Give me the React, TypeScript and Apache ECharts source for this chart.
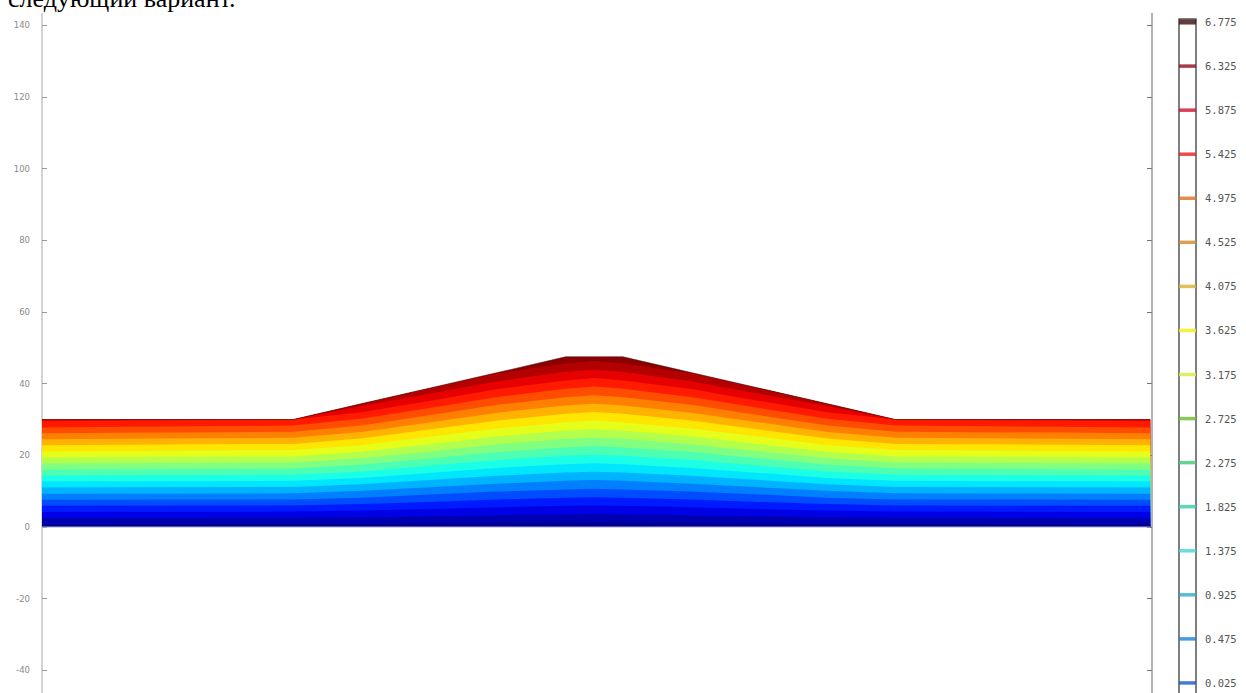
import React, { useEffect, useRef } from "react";
import * as echarts from "echarts";

// Horizontal stations across the cross-section (m)
const X_STATIONS = [0, 70, 89, 108, 127, 146, 154, 162, 181, 200, 219, 238, 309];
// Ground surface height at each station
const SURFACE = [30, 30, 34.4, 38.75, 43.1, 47.5, 47.5, 47.5, 43.1, 38.75, 34.4, 30, 30];

// Contour levels (low to high)
const LEVELS = [-1.775, -1.325, -0.875, -0.425, 0.025, 0.475, 0.925, 1.375, 1.825, 2.275, 2.725, 3.175, 3.625, 4.075, 4.525, 4.975, 5.425, 5.875, 6.325, 6.775];

// Height of each contour level at every station
const LEVEL_HEIGHTS = [
  [0.8, 0.9, 0.9, 1.0, 1.1, 1.2, 1.2, 1.2, 1.1, 1.0, 0.9, 0.9, 0.8],
  [2.5, 2.6, 2.7, 3.0, 3.3, 3.5, 3.6, 3.5, 3.3, 3.0, 2.7, 2.6, 2.5],
  [4.2, 4.3, 4.6, 5.0, 5.5, 5.9, 5.9, 5.9, 5.5, 5.0, 4.6, 4.3, 4.2],
  [5.9, 6.0, 6.4, 7.0, 7.7, 8.2, 8.3, 8.2, 7.7, 7.0, 6.4, 6.0, 5.9],
  [7.6, 7.7, 8.2, 9.1, 9.9, 10.5, 10.7, 10.5, 9.9, 9.1, 8.2, 7.7, 7.6],
  [9.3, 9.4, 10.1, 11.1, 12.1, 12.9, 13.1, 12.9, 12.1, 11.1, 10.1, 9.4, 9.3],
  [11.0, 11.2, 11.9, 13.1, 14.3, 15.2, 15.4, 15.2, 14.3, 13.1, 11.9, 11.2, 11.0],
  [12.7, 12.9, 13.7, 15.1, 16.5, 17.5, 17.8, 17.5, 16.5, 15.1, 13.7, 12.9, 12.7],
  [14.3, 14.6, 15.5, 17.1, 18.7, 19.9, 20.2, 19.9, 18.7, 17.1, 15.5, 14.6, 14.3],
  [16.0, 16.3, 17.4, 19.1, 20.9, 22.2, 22.6, 22.2, 20.9, 19.1, 17.4, 16.3, 16.0],
  [17.7, 18.0, 19.2, 21.1, 23.1, 24.6, 24.9, 24.6, 23.1, 21.1, 19.2, 18.0, 17.7],
  [19.4, 19.7, 21.0, 23.1, 25.3, 26.9, 27.3, 26.9, 25.3, 23.1, 21.0, 19.7, 19.4],
  [21.1, 21.5, 22.8, 25.2, 27.5, 29.2, 29.7, 29.2, 27.5, 25.2, 22.8, 21.5, 21.1],
  [22.8, 23.2, 24.7, 27.2, 29.7, 31.6, 32.1, 31.6, 29.7, 27.2, 24.7, 23.2, 22.8],
  [24.5, 24.9, 26.5, 29.2, 31.9, 33.9, 34.4, 33.9, 31.9, 29.2, 26.5, 24.9, 24.5],
  [26.2, 26.6, 28.3, 31.2, 34.1, 36.2, 36.8, 36.2, 34.1, 31.2, 28.3, 26.6, 26.2],
  [27.8, 28.3, 30.2, 33.2, 36.3, 38.6, 39.2, 38.6, 36.3, 33.2, 30.2, 28.3, 27.8],
  [29.5, 30.0, 32.0, 35.2, 38.5, 40.9, 41.6, 40.9, 38.5, 35.2, 32.0, 30.0, 29.5],
  [30.0, 30.0, 33.8, 37.2, 40.7, 43.3, 43.9, 43.3, 40.7, 37.2, 33.8, 30.0, 30.0],
  [30.0, 30.0, 34.4, 38.75, 42.9, 45.6, 46.3, 45.6, 42.9, 38.75, 34.4, 30.0, 30.0],
];

// Band colours: band k lies below LEVELS[k]; last one above the top level
const BAND_COLORS = [
  "#00008c", "#0000b3", "#0000e6", "#001aff", "#004dff", "#0080ff", "#00b3ff",
  "#00e6ff", "#1affe6", "#4dffb3", "#80ff80", "#b3ff4d", "#e6ff1a", "#ffe600",
  "#ffb300", "#ff8000", "#ff4d00", "#ff1a00", "#e60000", "#b30000", "#8c0000",
];

// Colour-bar entries (visible part)
const BAR_LEVELS = [0.025, 0.475, 0.925, 1.375, 1.825, 2.275, 2.725, 3.175, 3.625, 4.075, 4.525, 4.975, 5.425, 5.875, 6.325, 6.775];
const BAR_COLORS = [
  "#1858c8", "#2080d8", "#30a8d0", "#40d8d8", "#30d0a8", "#40c878", "#70b830", "#d8e840",
  "#f0f010", "#d8b030", "#d08830", "#e07020", "#e82020", "#d01030", "#8e0e1e", "#3c0c0c",
];

const Y_TICKS_MIN = -60;
const Y_TICKS_MAX = 160;
const Y_INTERVAL = 20;

export default function App() {
  const ref = useRef<HTMLDivElement>(null);
  useEffect(() => {
    if (!ref.current) return;
    const chart = echarts.init(ref.current, null, { renderer: "svg" });

    const bandSeries: any[] = [];
    bandSeries.push({
      type: "line",
      xAxisIndex: 0,
      yAxisIndex: 0,
      data: X_STATIONS.map((x, i) => [x, SURFACE[i]]),
      symbol: "none",
      lineStyle: { width: 0 },
      areaStyle: { color: BAND_COLORS[LEVELS.length], opacity: 1 },
      silent: true,
    });
    for (let k = LEVELS.length - 1; k >= 0; k--) {
      bandSeries.push({
        type: "line",
        xAxisIndex: 0,
        yAxisIndex: 0,
        data: X_STATIONS.map((x, i) => [x, LEVEL_HEIGHTS[k][i]]),
        symbol: "none",
        lineStyle: { width: 0 },
        areaStyle: { color: BAND_COLORS[k], opacity: 1 },
        silent: true,
      });
    }
    // surface outline
    bandSeries.push({
      type: "line",
      xAxisIndex: 0,
      yAxisIndex: 0,
      data: X_STATIONS.map((x, i) => [x, SURFACE[i]]),
      symbol: "none",
      lineStyle: { width: 1, color: "rgba(70,20,20,0.55)" },
      silent: true,
    });
    // base outline
    bandSeries.push({
      type: "line",
      xAxisIndex: 0,
      yAxisIndex: 0,
      data: [[X_STATIONS[0], 0], [X_STATIONS[X_STATIONS.length - 1], 0]],
      symbol: "none",
      lineStyle: { width: 1.2, color: "#a8a8d8" },
      silent: true,
    });

    const axisCommon = {
      type: "value",
      min: Y_TICKS_MIN,
      max: Y_TICKS_MAX,
      interval: Y_INTERVAL,
      splitLine: { show: false },
    };

    chart.setOption({
      animation: false,
      backgroundColor: "#fff",
      grid: [
        {
          left: 42, width: 1110, top: -46.3, height: 788.3,
          containLabel: false, outerBoundsMode: "none",
        },
        {
          left: 1179, width: 17, top: 19, height: 708, show: true,
          borderColor: "#555", borderWidth: 1.5, backgroundColor: "#fff",
          containLabel: false, outerBoundsMode: "none",
        },
      ],
      xAxis: [
        { type: "value", gridIndex: 0, min: 0, max: 309.5, show: false },
        { type: "value", gridIndex: 1, min: 0, max: 1, show: false },
      ],
      yAxis: [
        {
          ...axisCommon,
          gridIndex: 0,
          position: "left",
          axisLine: { show: true, lineStyle: { color: "#c4c4c4", width: 1.5 } },
          axisTick: { show: true, inside: true, length: 5, lineStyle: { color: "#999" } },
          axisLabel: {
            color: "#8a8a8a", fontSize: 8.5, margin: 12, fontFamily: "DejaVu Sans",
            showMinLabel: false, showMaxLabel: false,
          },
        },
        {
          ...axisCommon,
          gridIndex: 0,
          position: "right",
          axisLine: { show: true, lineStyle: { color: "#9a9a9a", width: 1.5 } },
          axisTick: { show: true, inside: true, length: 5, lineStyle: { color: "#777" } },
          axisLabel: { show: false },
        },
        {
          type: "value",
          gridIndex: 1,
          position: "right",
          min: -0.425,
          max: 6.806,
          splitLine: { show: false },
          axisLine: { show: false },
          axisTick: { show: false },
          axisLabel: {
            customValues: BAR_LEVELS,
            formatter: (v: number) => v.toFixed(3),
            color: "#555",
            fontSize: 10.5,
            fontFamily: "DejaVu Sans Mono",
            margin: 9,
          },
        },
      ],
      series: [
        ...bandSeries,
        {
          type: "scatter",
          xAxisIndex: 1,
          yAxisIndex: 2,
          symbol: "rect",
          silent: true,
          data: BAR_LEVELS.map((l, i) => ({
            value: [0.5, l],
            symbolSize: i === BAR_LEVELS.length - 1 ? [17, 5] : [17, 3.5],
            itemStyle: { color: BAR_COLORS[i] },
          })),
        },
      ],
      graphic: [
        {
          type: "rect",
          left: 0,
          top: 0,
          z: 100,
          shape: { width: 1246, height: 13 },
          style: { fill: "#fff" },
        },
        {
          type: "text",
          x: 8,
          y: -2,
          z: 101,
          style: {
            text: "следующий вариант.",
            font: '26px "Liberation Serif"',
            fill: "#000",
            verticalAlign: "middle",
          },
        },
      ],
    });
    return () => chart.dispose();
  }, []);
  return (
    <div
      ref={ref}
      style={{ position: "fixed", left: 0, top: 0, width: 1246, height: 693 }}
    />
  );
}
